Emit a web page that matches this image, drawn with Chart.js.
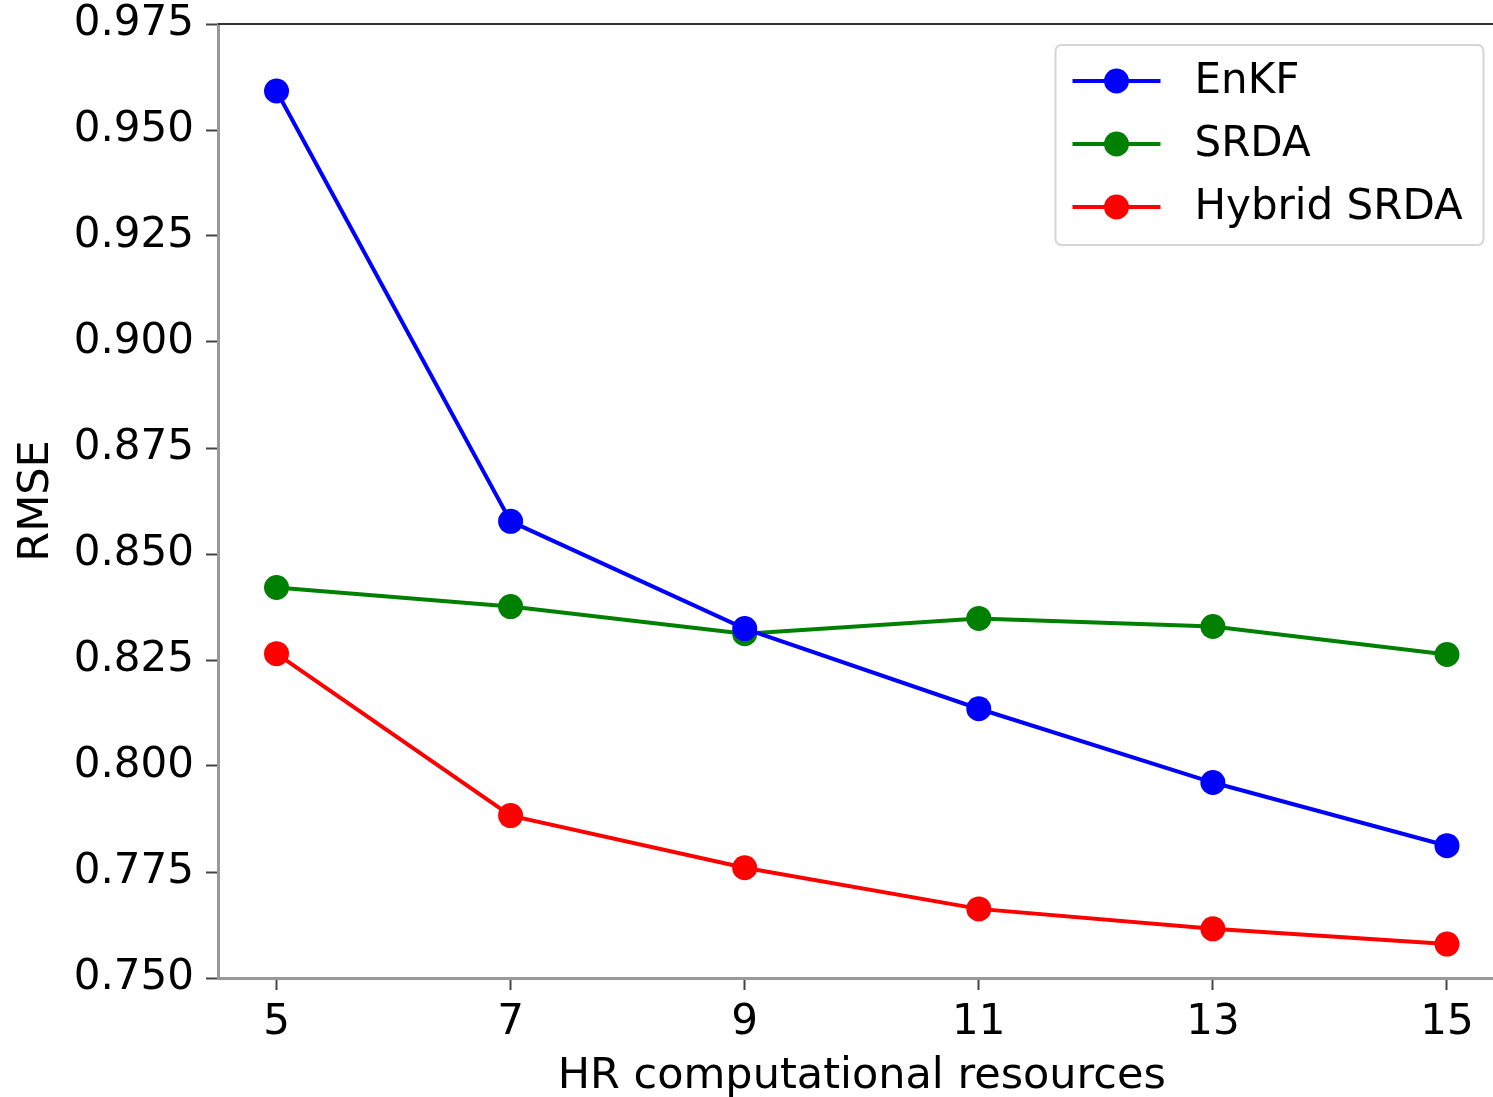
<!DOCTYPE html>
<html>
<head>
    <meta charset="utf-8">
    <title>RMSE vs HR computational resources</title>
    <style>
        html, body {
            margin: 0;
            padding: 0;
            background: #ffffff;
            overflow: hidden;
        }
    </style>
    <script src="https://cdn.jsdelivr.net/npm/chart.js"></script>
</head>
<body>
    <canvas id="myChart" width="1520" height="1097"></canvas>

    <script>
        // data
        var resources = [5, 7, 9, 11, 13, 15];
        var enkf = [0.9592, 0.8577, 0.8324, 0.8135, 0.7961, 0.7812];
        var srda = [0.8421, 0.8376, 0.8312, 0.8348, 0.8329, 0.8263];
        var hybrid = [0.8265, 0.7883, 0.7760, 0.7663, 0.7616, 0.7580];
        var seriesNames = ['EnKF', 'SRDA', 'Hybrid SRDA'];
        var seriesColors = ['#0000ff', '#008000', '#ff0000'];
        var xTicks = [5, 7, 9, 11, 13, 15];
        var yTicks = [0.750, 0.775, 0.800, 0.825, 0.850, 0.875, 0.900, 0.925, 0.950, 0.975];

        var fontFamily = '"DejaVu Sans", sans-serif';

        function points(values) {
            var pts = [];
            for (var i = 0; i < resources.length; i++) {
                pts.push({ x: resources[i], y: values[i] });
            }
            return pts;
        }

        function makeDataset(i, values) {
            return {
                label: seriesNames[i],
                data: points(values),
                borderColor: seriesColors[i],
                backgroundColor: seriesColors[i],
                borderWidth: 4,
                pointRadius: 12.5,
                pointHoverRadius: 12.5,
                pointBorderWidth: 0,
                tension: 0
            };
        }

        // matplotlib style legend, upper right
        var mplLegend = {
            id: 'mplLegend',
            afterDraw: function (chart) {
                var ctx = chart.ctx;
                var area = chart.chartArea;
                var boxW = 428, boxH = 200;
                var bx = area.right - 22 - boxW;
                var by = area.top + 21;
                ctx.save();
                ctx.beginPath();
                ctx.roundRect(bx, by, boxW, boxH, 6);
                ctx.fillStyle = 'rgba(255,255,255,0.8)';
                ctx.fill();
                ctx.lineWidth = 2;
                ctx.strokeStyle = '#d6d6d6';
                ctx.stroke();
                ctx.font = '42px ' + fontFamily;
                ctx.textBaseline = 'middle';
                chart.data.datasets.forEach(function (ds, i) {
                    var y = by + 36 + i * 63;
                    ctx.strokeStyle = ds.borderColor;
                    ctx.lineWidth = 4;
                    ctx.beginPath();
                    ctx.moveTo(bx + 17, y);
                    ctx.lineTo(bx + 105, y);
                    ctx.stroke();
                    ctx.fillStyle = ds.borderColor;
                    ctx.beginPath();
                    ctx.arc(bx + 61, y, 12.5, 0, Math.PI * 2);
                    ctx.fill();
                    ctx.fillStyle = '#000000';
                    ctx.fillText(ds.label, bx + 139, y + 1);
                });
                ctx.restore();
            }
        };

        var ctx = document.getElementById('myChart').getContext('2d');
        var myChart = new Chart(ctx, {
            type: 'line',
            data: {
                datasets: [
                    makeDataset(0, enkf),
                    makeDataset(1, srda),
                    makeDataset(2, hybrid)
                ]
            },
            options: {
                responsive: false,
                animation: false,
                devicePixelRatio: 1,
                layout: {
                    padding: { left: 0, top: 24, right: 14.5, bottom: 0 }
                },
                plugins: {
                    legend: { display: false },
                    tooltip: { enabled: false }
                },
                scales: {
                    x: {
                        type: 'linear',
                        min: 4.5,
                        max: 15.5,
                        afterBuildTicks: function (scale) {
                            scale.ticks = xTicks.map(function (v) { return { value: v }; });
                        },
                        afterFit: function (scale) {
                            scale.height = 119;
                            scale.paddingLeft = 0;
                            scale.paddingRight = 0;
                        },
                        grid: {
                            drawOnChartArea: false,
                            drawTicks: true,
                            tickLength: 12,
                            tickWidth: 2,
                            tickColor: '#444444'
                        },
                        border: { display: true, color: '#999999', width: 3 },
                        ticks: {
                            color: '#000000',
                            padding: 8,
                            maxRotation: 0,
                            font: { family: fontFamily, size: 42 },
                            callback: function (v) { return String(v); }
                        },
                        title: {
                            display: true,
                            text: 'HR computational resources',
                            color: '#000000',
                            font: { family: fontFamily, size: 43, lineHeight: 1 },
                            padding: { top: 0, bottom: -1 }
                        }
                    },
                    y: {
                        type: 'linear',
                        min: 0.75,
                        max: 0.975,
                        afterBuildTicks: function (scale) {
                            scale.ticks = yTicks.map(function (v) { return { value: v }; });
                        },
                        afterFit: function (scale) {
                            scale.width = 218;
                            scale.paddingTop = 0;
                            scale.paddingBottom = 0;
                        },
                        grid: {
                            drawOnChartArea: false,
                            drawTicks: true,
                            tickLength: 12,
                            tickWidth: 2,
                            tickColor: '#444444'
                        },
                        border: { display: true, color: '#999999', width: 3 },
                        ticks: {
                            color: '#000000',
                            padding: 12,
                            font: { family: fontFamily, size: 42 },
                            callback: function (v) { return Number(v).toFixed(3); }
                        },
                        title: {
                            display: true,
                            text: 'RMSE',
                            color: '#000000',
                            font: { family: fontFamily, size: 43, lineHeight: 1 },
                            padding: { top: 15, bottom: 0 }
                        }
                    }
                }
            },
            plugins: [
                {
                    // top spine, the right one lies past the picture edge
                    id: 'topSpine',
                    beforeDatasetsDraw: function (chart) {
                        var c = chart.ctx;
                        var a = chart.chartArea;
                        c.save();
                        c.strokeStyle = '#333333';
                        c.lineWidth = 2;
                        c.beginPath();
                        c.moveTo(a.left, a.top);
                        c.lineTo(a.right, a.top);
                        c.stroke();
                        c.restore();
                    }
                },
                mplLegend
            ]
        });
    </script>
</body>
</html>
